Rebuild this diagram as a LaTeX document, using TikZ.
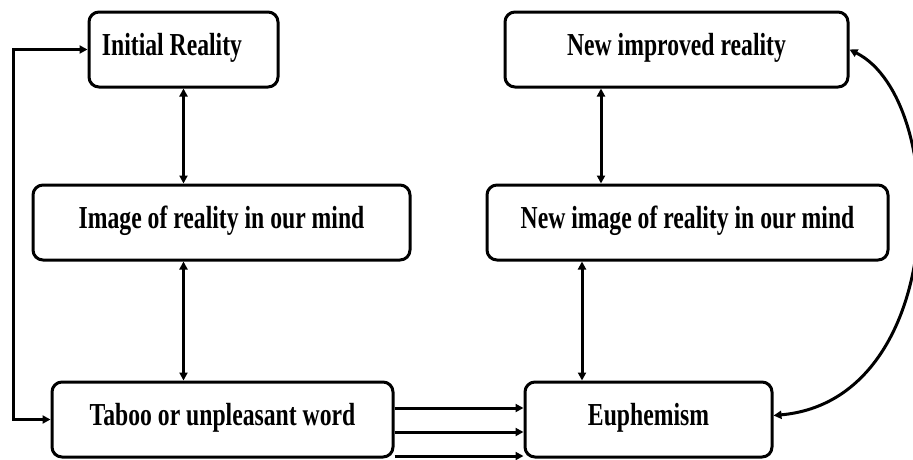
\documentclass[tikz,border=0pt]{standalone}
\usepackage{fontspec}
\setmainfont{Liberation Serif}[FakeStretch=0.74]
\usetikzlibrary{arrows.meta,calc}
\begin{document}
\begin{tikzpicture}[x=1pt,y=-1pt,
  box/.style={draw,line width=3pt,rounded corners=10pt,minimum height=75pt,
    inner sep=0pt,font=\bfseries\fontsize{32}{36}\selectfont,
    text height=16pt,text depth=5pt},
  conn/.style={line width=3pt},
  >={Triangle[length=8pt,width=8pt]}]
\path[use as bounding box] (0,0) rectangle (913,459);
\node[box,minimum width=189pt] (IR) at (183.5,49.5) {Initial Reality\kern23pt};
\node[box,minimum width=343pt] (NIR) at (676.5,49.5) {New improved reality};
\node[box,minimum width=377pt] (IMG) at (221.5,222.5) {Image of reality in our mind};
\node[box,minimum width=401pt] (NIMG) at (687.5,222.5) {New image of reality in our mind};
\node[box,minimum width=341pt] (TAB) at (222.5,419.5) {Taboo or unpleasant word};
\node[box,minimum width=247pt] (EUP) at (648.5,419.5) {Euphemism};
\coordinate (L) at (13,0);
\coordinate (rA) at (601,0);
\coordinate (rB) at (582,0);
\draw[conn,<->] (IR.south) -- (IMG.north -| IR.south);
\draw[conn,<->] (IMG.south -| IR.south) -- (TAB.north -| IR.south);
\draw[conn,<->] (NIR.south -| rA) -- (NIMG.north -| rA);
\draw[conn,<->] (NIMG.south -| rB) -- (EUP.north -| rB);
\draw[conn,<->] (TAB.west) -- (TAB.west -| L) -- (IR.west -| L) -- (IR.west);
\draw[conn,->] ([yshift=11.5pt]TAB.east) -- ([yshift=11.5pt]EUP.west);
\draw[conn,->] ([yshift=-12.5pt]TAB.east) -- ([yshift=-12.5pt]EUP.west);
\draw[conn,->] ([yshift=-36.5pt]TAB.east) -- ([yshift=-36.5pt]EUP.west);
\draw[conn,<->] (NIR.east) .. controls (950,100) and (950,400) .. ([yshift=4pt]EUP.east);
\end{tikzpicture}
\end{document}
